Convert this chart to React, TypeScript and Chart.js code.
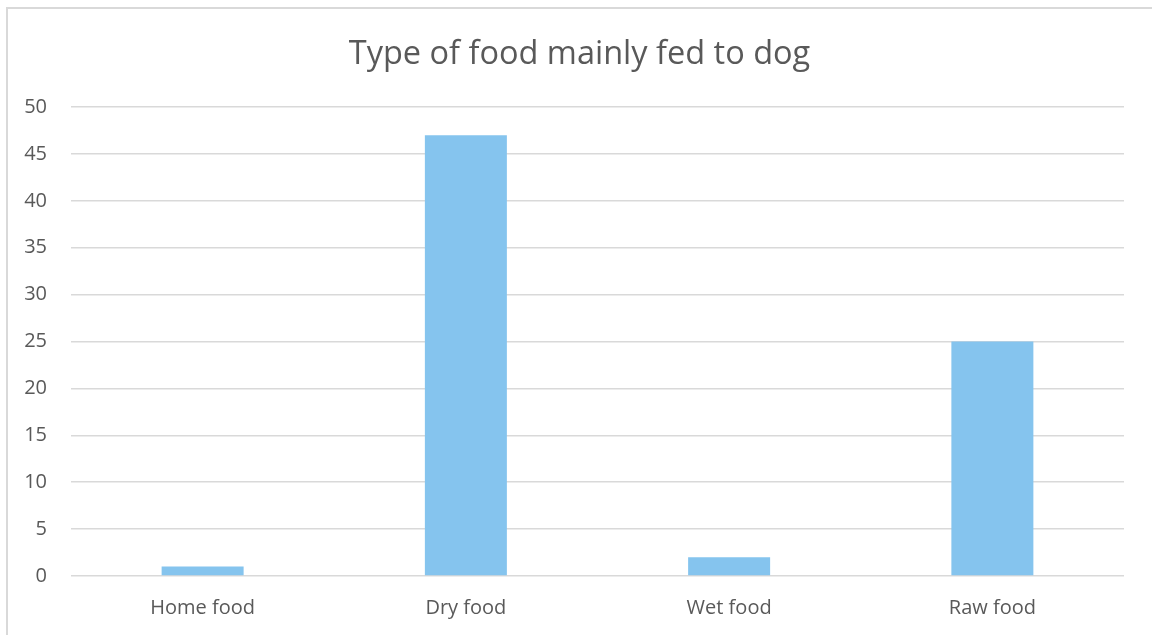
import React, { useEffect, useRef } from "react";
import { Chart, registerables } from "chart.js";

Chart.register(...registerables);

const categories = ["Home food", "Dry food", "Wet food", "Raw food"];
const values = [1, 47, 2, 25];
const chartTitle = "Type of food mainly fed to dog";
const yMin = 0;
const yMax = 50;
const yStep = 5;

const TEXT = "#595959";
const GRID = "#d9d9d9";
const BAR = "#85c4ee";
const FONT = "'Open Sans', sans-serif";

const borderPlugin = {
  id: "outerBorder",
  beforeDraw(chart: any) {
    const ctx = chart.ctx;
    ctx.save();
    ctx.fillStyle = "#ffffff";
    ctx.fillRect(0, 0, chart.width, chart.height);
    ctx.strokeStyle = GRID;
    ctx.lineWidth = 2;
    ctx.strokeRect(7, 8, chart.width + 100, chart.height + 100);
    ctx.restore();
  },
};

export default function App() {
  const ref = useRef<HTMLCanvasElement | null>(null);

  useEffect(() => {
    document.body.style.margin = "0";
    if (!ref.current) return;
    const chart = new Chart(ref.current, {
      type: "bar",
      data: {
        labels: categories,
        datasets: [
          {
            data: values,
            backgroundColor: BAR,
            borderWidth: 0,
            barPercentage: 0.3115,
            categoryPercentage: 1,
          },
        ],
      },
      options: {
        responsive: false,
        animation: false,
        layout: { padding: { left: 7, right: 0, top: 0, bottom: 0 } },
        plugins: {
          legend: { display: false },
          tooltip: { enabled: false },
          title: {
            display: true,
            text: chartTitle,
            color: TEXT,
            font: { family: FONT, size: 32.5, weight: "normal" },
            padding: { top: 35, bottom: 33 },
          },
        },
        scales: {
          x: {
            grid: { display: false, drawTicks: false },
            border: { display: false },
            ticks: {
              color: TEXT,
              font: { family: FONT, size: 20 },
              padding: 20,
              maxRotation: 0,
            },
            afterFit(scale: any) {
              scale.height = 59;
            },
          },
          y: {
            min: yMin,
            max: yMax,
            grid: { color: GRID, lineWidth: 1.5, drawTicks: false },
            border: { display: false },
            ticks: {
              stepSize: yStep,
              color: TEXT,
              font: { family: FONT, size: 20 },
              padding: 24,
            },
            afterFit(scale: any) {
              scale.width = 64;
            },
          },
          spacer: {
            type: "linear",
            position: "right",
            display: true,
            grid: { display: false, drawTicks: false },
            border: { display: false },
            ticks: { display: false },
            afterFit(scale: any) {
              scale.width = 28;
            },
          },
        },
      },
      plugins: [borderPlugin],
    });
    return () => chart.destroy();
  }, []);

  return (
    <div style={{ position: "fixed", left: 0, top: 0, width: 1152, height: 635, overflow: "hidden" }}>
      <canvas ref={ref} width={1152} height={635} />
    </div>
  );
}
